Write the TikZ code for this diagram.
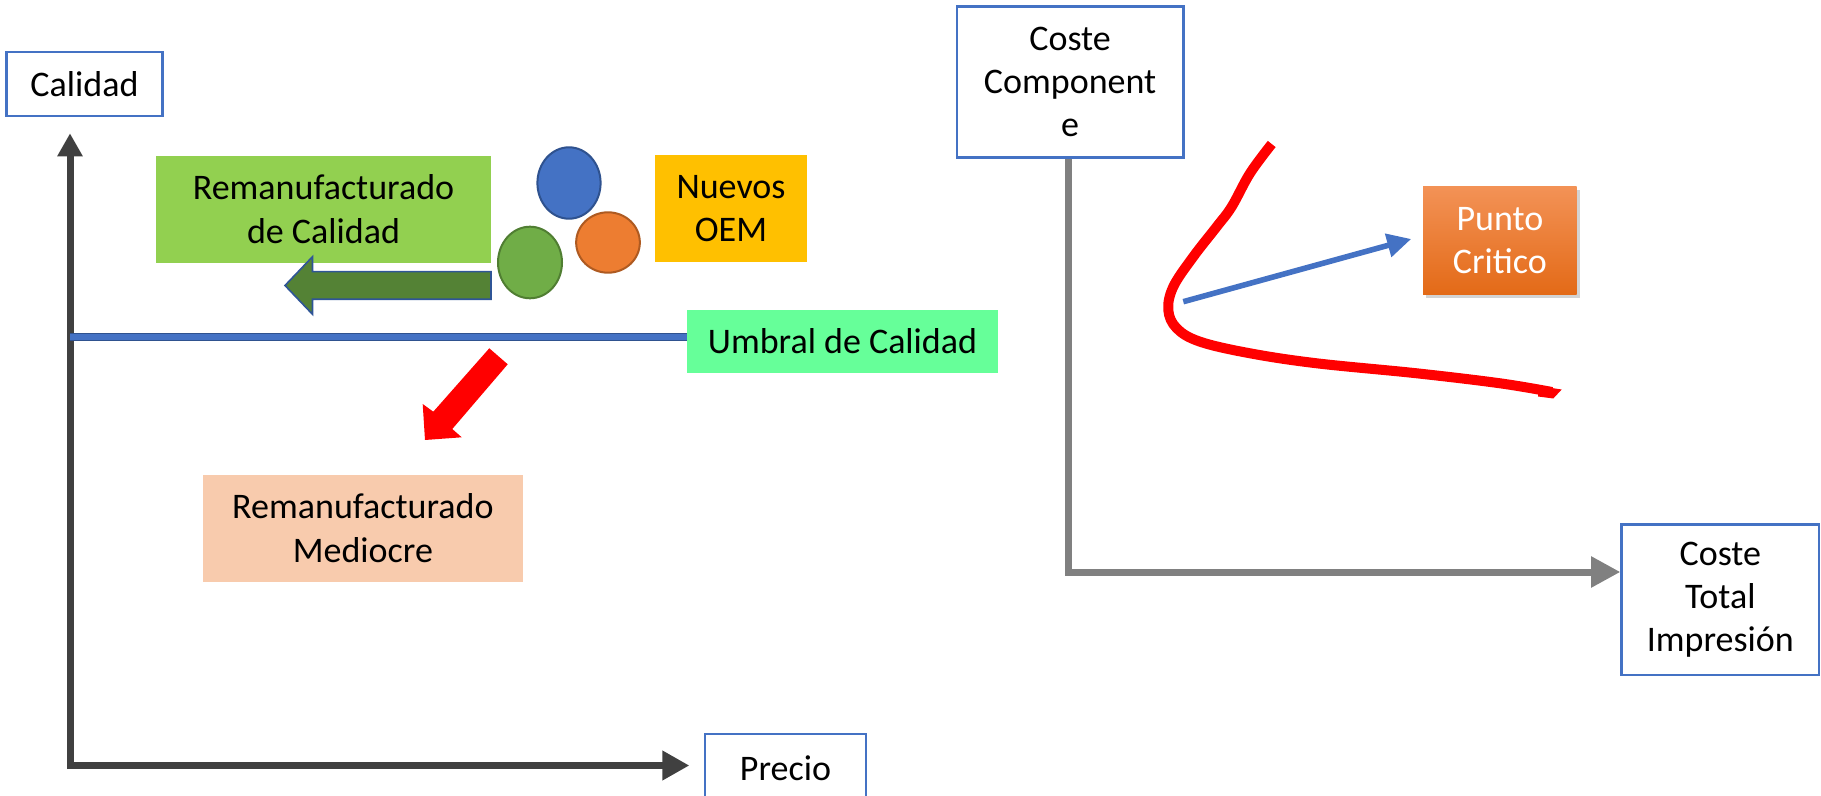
\documentclass[tikz,border=0pt]{standalone}
\usepackage{fontspec}
\setmainfont{Carlito}
\usetikzlibrary{shapes.geometric,arrows.meta,shadows,calc}
\definecolor{oblue}{HTML}{4472C4}
\definecolor{dblue}{HTML}{2F528F}
\definecolor{lgreen}{HTML}{92D050}
\definecolor{gold}{HTML}{FFC000}
\definecolor{mint}{HTML}{66FF99}
\definecolor{peach}{HTML}{F8CBAD}
\definecolor{agreen}{HTML}{548235}
\definecolor{agborder}{HTML}{2F5597}
\definecolor{eorange}{HTML}{ED7D31}
\definecolor{eorangeb}{HTML}{AE5A21}
\definecolor{egreen}{HTML}{70AD47}
\definecolor{egreenb}{HTML}{507E32}
\definecolor{axisdark}{HTML}{404040}
\definecolor{axisgray}{HTML}{808080}
\definecolor{ptop}{HTML}{F39256}
\definecolor{pbot}{HTML}{E36A17}
\begin{document}
\begin{tikzpicture}[x=0.5pt,y=-0.5pt,
  every node/.style={font=\fontsize{18pt}{21.7pt}\selectfont, inner sep=0pt, align=center},
  labelbox/.style={draw=oblue, line width=1.2pt, fill=white},
  blob/.style={ellipse, line width=1pt},
  axisL/.style={line width=3.5pt, draw=axisdark},
  axisR/.style={line width=3.5pt, draw=axisgray},
  blockarrow/.style={fill=agreen, draw=agborder, line width=0.8pt},
  redarrow/.style={fill=red},
  curve/.style={draw=red, line width=5pt},
  pointer/.style={draw=oblue, line width=2.8pt, -{Triangle[length=12pt,width=11.5pt]}},
  threshold/.style={draw=dblue, double=oblue, double distance=2.8pt, line width=0.75pt}
]
\useasboundingbox (0,0) rectangle (1821,796);

% left chart nodes
\node[labelbox, minimum width=78.1pt, minimum height=31.9pt] (cal) at (84.5,84.2) {Calidad};
\node[fill=lgreen, minimum width=167.5pt, minimum height=53.3pt] (remq) at (323.5,209.3) {Remanufacturado\\de Calidad};
\node[fill=gold, minimum width=75.9pt, minimum height=53.3pt] (oem) at (731,208.3) {Nuevos\\OEM};
\node[fill=mint, minimum width=155.5pt, minimum height=31.3pt] (umb) at (842.5,341.3) {Umbral de Calidad};
\node[fill=peach, minimum width=160.1pt, minimum height=53.3pt] (remm) at (362.9,528.3) {Remanufacturado\\Mediocre};
\node[labelbox, minimum width=80.5pt, minimum height=34pt] (prec) at (785.5,768) {Precio};

% ellipses
\node[blob, fill=eorange, draw=eorangeb, minimum width=31.85pt, minimum height=30.2pt] (eo) at (608,242.5) {};
\node[blob, fill=oblue, draw=dblue, minimum width=31.6pt, minimum height=35.7pt] (eb) at (569,183) {};
\node[blob, fill=egreen, draw=egreenb, minimum width=32pt, minimum height=35.8pt] (eg) at (530,262.5) {};

% left axes
\coordinate (O1) at (70,765.5);
\draw[axisL, -{Triangle[length=11.5pt,width=12pt]}, shorten >=8pt] ($(O1)+(0,3.5)$) -- (O1 |- cal.south);
\draw[axisL, -{Triangle[length=13.5pt,width=14pt]}, shorten >=7.2pt] (O1) -- (O1 -| prec.west);

% threshold line
\coordinate (U0) at (70,337);
\draw[threshold] (U0) -- (U0 -| umb.west);

% green block arrow
\draw[blockarrow] (491,271.7) -- (312.5,271.7) -- (312.5,256.7) -- (285,285.5) -- (312.5,314.3) -- (312.5,299.3) -- (491,299.3) -- cycle;

% red block arrow
\fill[redarrow] (489.3,348.3) -- (507.7,364.3) -- (452.3,429) -- (461.7,437.3) -- (425,440) -- (422.7,404) -- (433.3,411.7) -- cycle;

% right chart nodes
\node[labelbox, minimum width=113.2pt, minimum height=75.4pt] (cc) at (1070.1,82) {Coste\\Component\\e};
\node[labelbox, minimum width=98.7pt, minimum height=75.4pt] (ct) at (1720.3,599.8) {Coste\\Total\\Impresión};
\node[top color=ptop, bottom color=pbot, drop shadow={shadow xshift=1.5pt, shadow yshift=-1.8pt, opacity=0.35}, text=white, minimum width=76.7pt, minimum height=54pt] (pc) at (1499.9,240.8) {Punto\\Critico};

% right axes
\coordinate (O2) at (1068.1,572);
\draw[axisR] ($(O2)+(0,3.5)$) -- (O2 |- cc.south);
\draw[axisR, -{Triangle[length=14.6pt,width=14.7pt]}] (O2) -- (O2 -| ct.west);

% red curve
\draw[curve] plot[smooth, tension=0.6] coordinates {(1271.7,144) (1250,173.3) (1231.7,206.7) (1216.7,226.7) (1193.3,256.7) (1173.3,286.7) (1168.3,310) (1176.7,328.3) (1200,341.7) (1250,353.3) (1316.7,363.3) (1416.7,373.3) (1500,383.3) (1552,392)};
\fill[red] (1538.3,386) -- (1561.7,389.5) -- (1553.3,398.5) -- (1538,396.5) -- cycle;

% blue pointer
\coordinate (B0) at (1183.3,301.7);
\draw[pointer, shorten >=6pt] (B0) -- ($(pc.west)+(0,-5)$);
\end{tikzpicture}
\end{document}
